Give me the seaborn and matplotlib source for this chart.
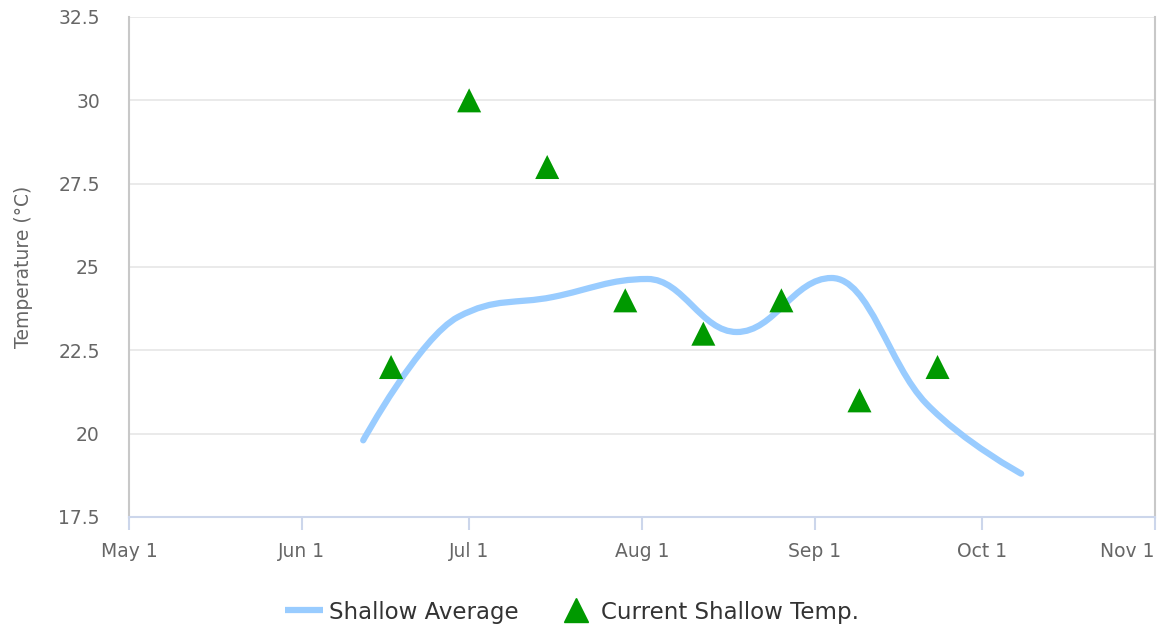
import datetime as dt
import numpy as np
import pandas as pd
import matplotlib
matplotlib.use("Agg")
import matplotlib.pyplot as plt
import matplotlib.dates as mdates
from matplotlib.path import Path
from matplotlib.patches import PathPatch
from matplotlib.lines import Line2D
import seaborn as sns

# ---- data ----
avg_dates = ["2023-06-12", "2023-06-29", "2023-07-16", "2023-08-02",
             "2023-08-18", "2023-09-04", "2023-09-21", "2023-10-08"]
avg_temps = [19.8, 23.5, 24.1, 24.64, 23.05, 24.67, 20.9, 18.8]

cur_dates = ["2023-06-17", "2023-07-01", "2023-07-15", "2023-07-29",
             "2023-08-12", "2023-08-26", "2023-09-09", "2023-09-23"]
cur_temps = [22, 30, 28, 24, 23, 24, 21, 22]

x_ticks = ["2023-05-01", "2023-06-01", "2023-07-01", "2023-08-01",
           "2023-09-01", "2023-10-01", "2023-11-01"]
x_tick_labels = ["May 1", "Jun 1", "Jul 1", "Aug 1", "Sep 1", "Oct 1", "Nov 1"]
y_ticks = [17.5, 20, 22.5, 25, 27.5, 30, 32.5]
y_tick_labels = ["17.5", "20", "22.5", "25", "27.5", "30", "32.5"]

LINE_C = "#99ccff"
TRI_C = "#009900"

sns.set_theme(style="white")
plt.rcParams["font.family"] = ["DejaVu Sans"]

fig = plt.figure(figsize=(11.61, 6.30), dpi=100)
ax = fig.add_axes([129 / 1161, 1 - 517 / 630, (1155 - 129) / 1161, (517 - 17) / 630])


def to_num(ds):
    return mdates.date2num([pd.Timestamp(d).to_pydatetime() for d in ds])


# Highcharts-style spline via Bezier path in data coordinates
ax_x = to_num(avg_dates)
ax_y = np.array(avg_temps, dtype=float)
verts = [(ax_x[0], ax_y[0])]
codes = [Path.MOVETO]
n = len(ax_x)
right_cont = [None] * n
sm, den = 1.5, 2.5
for i in range(1, n):
    px, py = ax_x[i], ax_y[i]
    lx, ly = ax_x[i - 1], ax_y[i - 1]
    lcx, lcy = px, py
    if i < n - 1:
        nx, ny = ax_x[i + 1], ax_y[i + 1]
        lcx = (sm * px + lx) / den
        lcy = (sm * py + ly) / den
        rcx = (sm * px + nx) / den
        rcy = (sm * py + ny) / den
        corr = ((rcy - lcy) * (rcx - px)) / (rcx - lcx) + py - rcy
        lcy += corr
        rcy += corr
        if lcy > ly and lcy > py:
            lcy = max(ly, py); rcy = 2 * py - lcy
        elif lcy < ly and lcy < py:
            lcy = min(ly, py); rcy = 2 * py - lcy
        if rcy > ny and rcy > py:
            rcy = max(ny, py); lcy = 2 * py - rcy
        elif rcy < ny and rcy < py:
            rcy = min(ny, py); lcy = 2 * py - rcy
        right_cont[i] = (rcx, rcy)
    prev_rc = right_cont[i - 1] if right_cont[i - 1] is not None else (lx, ly)
    verts += [prev_rc, (lcx, lcy), (px, py)]
    codes += [Path.CURVE4] * 3

patch = PathPatch(Path(verts, codes), facecolor="none", edgecolor=LINE_C,
                  lw=4.5, capstyle="round", joinstyle="round", zorder=3)
ax.add_patch(patch)

df_cur = pd.DataFrame({"date": pd.to_datetime(cur_dates), "temp": cur_temps})
sns.scatterplot(data=df_cur, x="date", y="temp", marker="^", s=300,
                color=TRI_C, edgecolor="none", ax=ax, zorder=4)

ax.set_xlim(to_num([x_ticks[0]])[0], to_num([x_ticks[-1]])[0])
ax.set_ylim(17.5, 32.5)
ax.set_xticks(pd.to_datetime(x_ticks))
ax.set_xticklabels(x_tick_labels)
ax.set_yticks(y_ticks)
ax.set_yticklabels(y_tick_labels)
ax.set_xlabel("")
ax.set_ylabel("Temperature (°C)", fontsize=13.5, color="#666666", labelpad=18)

ax.grid(axis="y", color="#e6e6e6", lw=1.2)
ax.grid(axis="x", visible=False)
ax.set_axisbelow(True)

ax.spines["top"].set_visible(False)
ax.spines["left"].set_color("#c8c8c8")
ax.spines["left"].set_linewidth(1.5)
ax.spines["right"].set_color("#c8c8c8")
ax.spines["right"].set_linewidth(1.5)
ax.spines["bottom"].set_color("#ccd6eb")
ax.spines["bottom"].set_linewidth(1.5)

ax.tick_params(axis="x", bottom=True, length=9, width=1.5, color="#ccd6eb",
               labelsize=13.5, labelcolor="#666666", pad=9)
ax.tick_params(axis="y", left=False, labelsize=13.5, labelcolor="#666666", pad=15)
# last label kept inside the figure, as in the reference
xt_labels = ax.get_xticklabels()
xt_labels[-1].set_horizontalalignment("right")

handles = [
    Line2D([0], [0], color=LINE_C, lw=4.5, solid_capstyle="butt"),
    Line2D([0], [0], color=TRI_C, marker="^", markersize=17, lw=0),
]
fig.legend(handles, ["Shallow Average", "Current Shallow Temp."],
           loc="center", bbox_to_anchor=(572 / 1161, 1 - 612 / 630), ncol=2,
           frameon=False, fontsize=16.5, labelcolor="#333333",
           handlelength=1.65, columnspacing=1.7, handletextpad=0.25)

fig.savefig("out.png", dpi=100)
